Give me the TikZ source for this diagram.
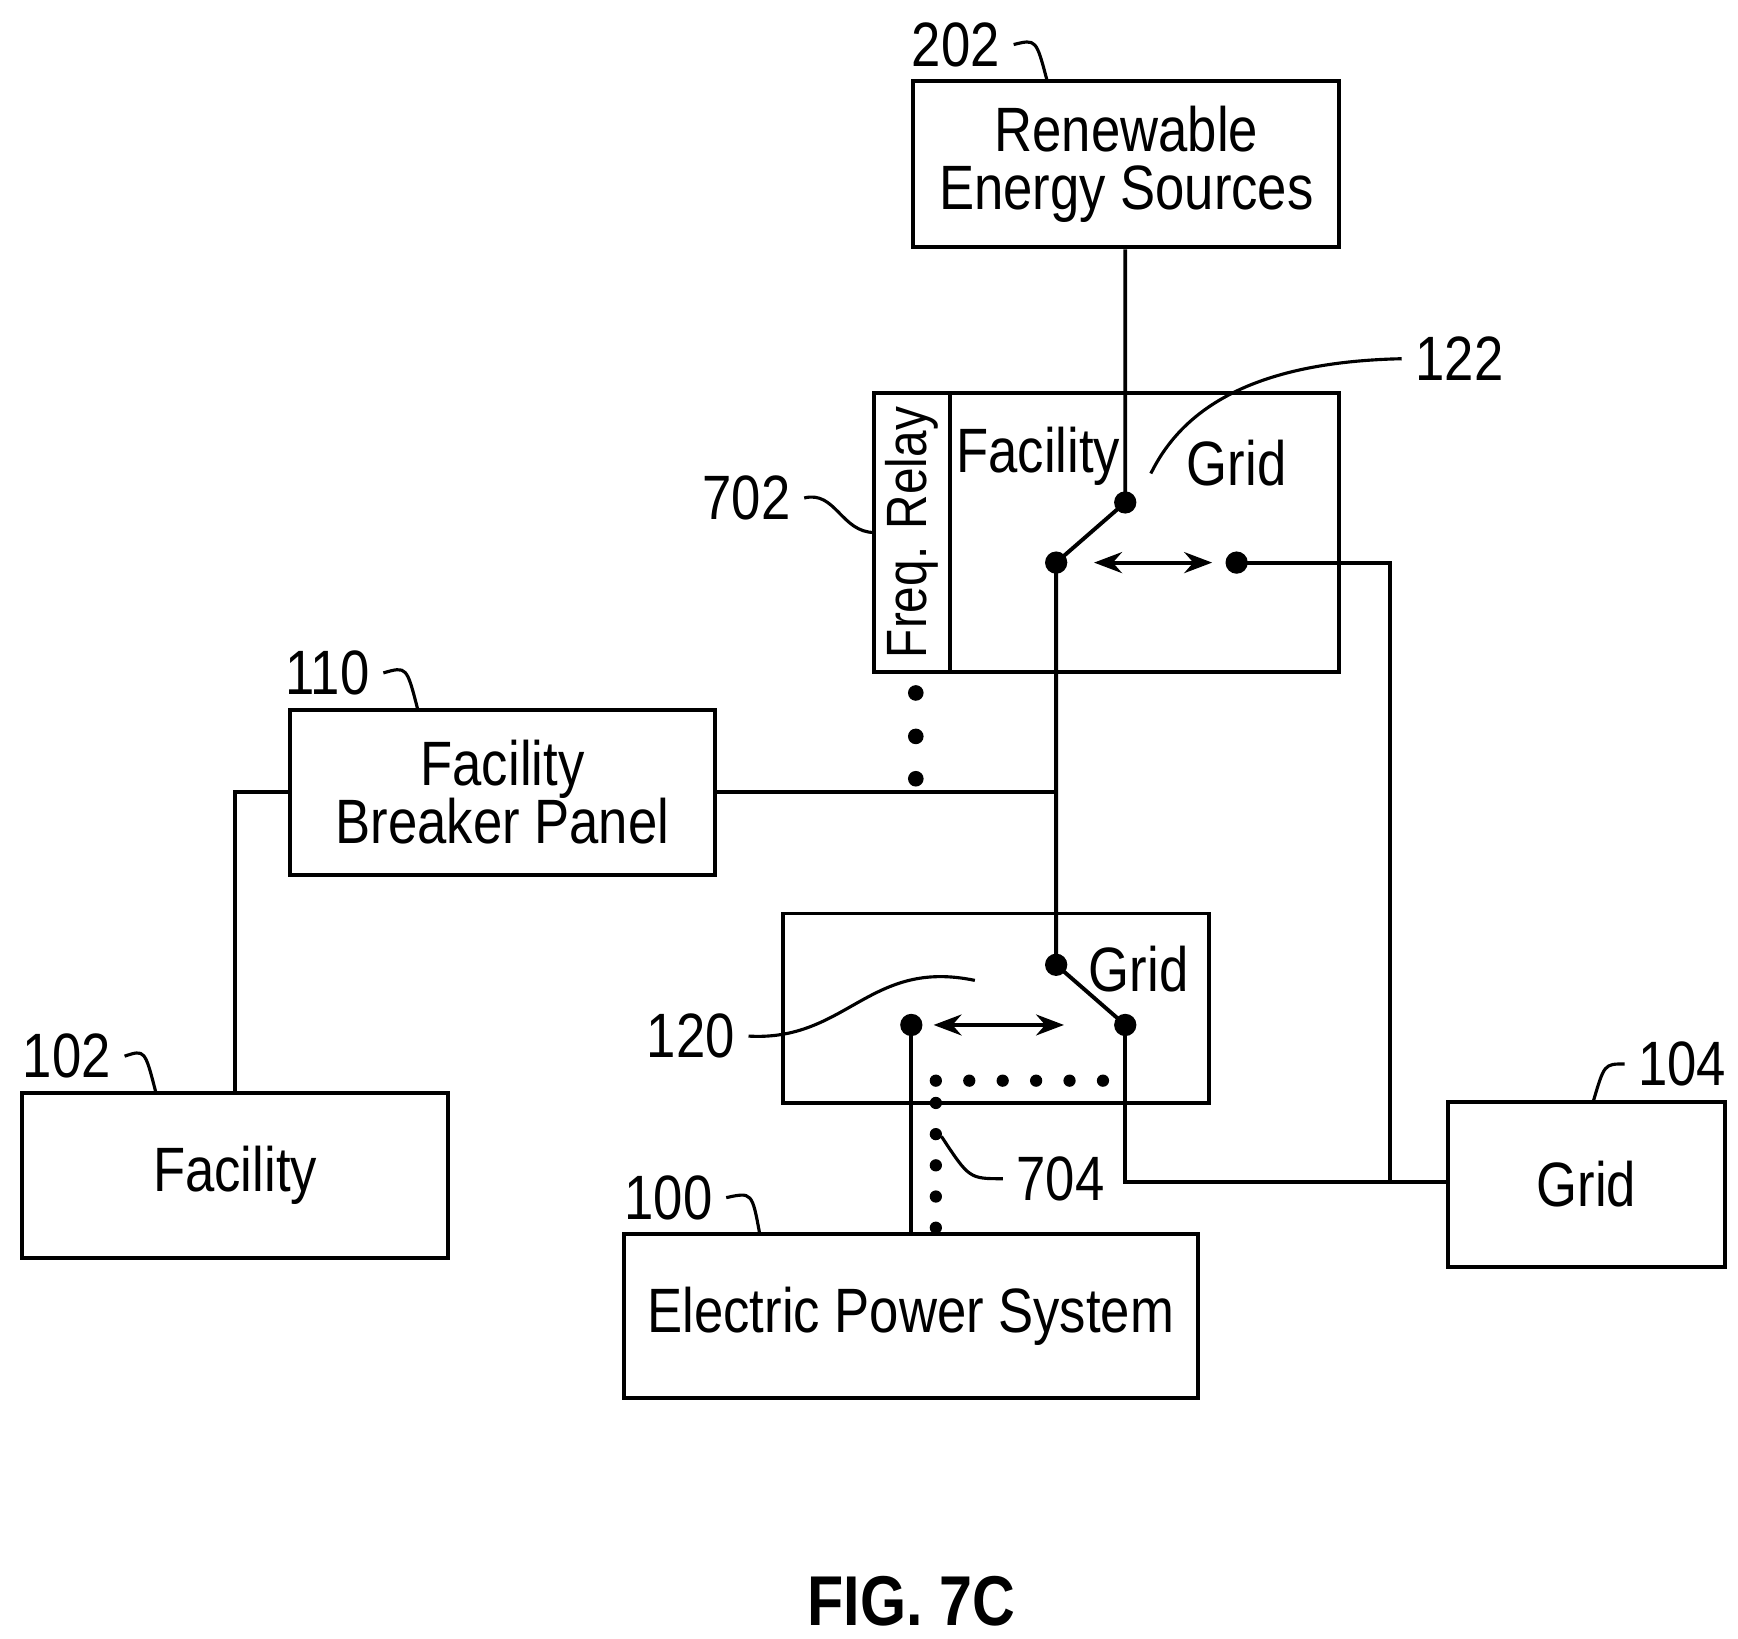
\documentclass[tikz,border=0pt]{standalone}
\usepackage{fontspec}
\setmainfont{Liberation Sans}[FakeStretch=0.84]
\usetikzlibrary{arrows.meta}
\tikzset{
  box/.style={draw,line width=1pt,inner sep=0pt},
  wire/.style={line width=1pt},
  lead/.style={line width=0.8pt},
  dot/.style={circle,fill,inner sep=0pt,minimum size=0.2cm},
  ref/.style={font=\fontsize{16}{18}\selectfont},
}
\begin{document}
\begin{tikzpicture}[x=0.01cm,y=-0.01cm,font=\fontsize{16}{18}\selectfont]
      \useasboundingbox (0,0) rectangle (1560,1471);

      % boxes
      \node[box,minimum width=3.82cm,minimum height=1.49cm,align=center] (res) at (1011,147.5) {Renewable\\[-3pt]Energy Sources};
      \node[box,minimum width=4.17cm,minimum height=2.5cm] (sw122) at (993.5,478) {};
      \draw[wire] (853,353) -- (853,603);
      \node[rotate=90,font=\fontsize{14.5}{16}\selectfont] (relay) at (818,478) {Freq. Relay};
      \node (fac122) at (932,410) {Facility};
      \node (grid122) at (1110,416) {Grid};
      \node[box,minimum width=3.82cm,minimum height=1.48cm,align=center] (bp) at (451,711) {Facility\\[-3pt]Breaker Panel};
      \node[box,minimum width=3.82cm,minimum height=1.48cm] (fac) at (211,1055) {Facility};
      \node[box,minimum width=3.82cm,minimum height=1.7cm] (sw120) at (894,905) {};
      \node (grid120) at (1022,870) {Grid};
      \node[box,minimum width=2.48cm,minimum height=1.48cm] (grid) at (1424,1063) {Grid};
      \node[box,minimum width=5.15cm,minimum height=1.47cm] (eps) at (817.5,1181.5) {Electric Power System};

      % switch contacts
      \node[dot] (a1) at (1010,451) {};
      \node[dot] (a2) at (948,505) {};
      \node[dot] (a3) at (1110,505) {};
      \node[dot] (b1) at (948,866) {};
      \node[dot] (b2) at (1010,920) {};
      \node[dot] (b3) at (818,920) {};
      \coordinate (j1) at (948,711);
      \coordinate (j2) at (1248,1061);

      % wiring
      \draw[wire] (res.south -| a1) -- (a1.center) -- (a2.center) -- (b1.center) -- (b2.center);
      \draw[wire] (a3.center) -| (j2) -- (grid.west |- j2);
      \draw[wire] (b2.center) |- (j2);
      \draw[wire] (b3.center) -- (eps.north -| b3);
      \draw[wire] (bp.east |- j1) -- (j1);
      \draw[wire] (bp.west |- j1) -| (fac.north);
      \draw[wire,{Stealth[length=0.25cm]}-{Stealth[length=0.25cm]}] (982,505) -- (1088,505);
      \draw[wire,{Stealth[length=0.25cm]}-{Stealth[length=0.25cm]}] (838,920) -- (955,920);

      % mechanical links
      \foreach \y in {622,661,699} \fill (822,\y) circle (0.07cm);
      \foreach \x in {840,870,...,995} \fill (\x,970) circle (0.055cm);
      \foreach \y in {990,1018,...,1108} \fill (840,\y) circle (0.055cm);

      % reference numerals
      \node[ref] (n202) at (858,40) {202};
      \draw[lead] (n202.east) .. controls (930,35) .. (940,73);
      \node[ref] (n122) at (1310,322) {122};
      \draw[lead] (n122.west) .. controls (1120,325) and (1060,370) .. (1033,425);
      \node[ref] (n702) at (670,447) {702};
      \draw[lead] (n702.east) .. controls (750,440) and (755,478) .. (785,478);
      \node[ref] (n110) at (294,604) {110};
      \draw[lead] (n110.east) .. controls (365,598) .. (375,637);
      \node[ref] (n102) at (60,948) {102};
      \draw[lead] (n102.east) .. controls (130,942) .. (140,981);
      \node[ref] (n120) at (620,930) {120};
      \draw[lead] (n120.east) .. controls (760,935) and (780,860) .. (875,880);
      \node[ref] (n104) at (1510,955) {104};
      \draw[lead] (n104.west) .. controls (1440,955) .. (1430,989);
      \node[ref] (n100) at (600,1075) {100};
      \draw[lead] (n100.east) .. controls (675,1070) .. (682,1108);
      \node[ref] (n704) at (952,1058) {704};
      \draw[lead] (n704.west) .. controls (870,1058) .. (845,1020);

      \node[font=\fontsize{18}{20}\selectfont\bfseries] (fig) at (818,1437) {FIG. 7C};
\end{tikzpicture}
\end{document}
